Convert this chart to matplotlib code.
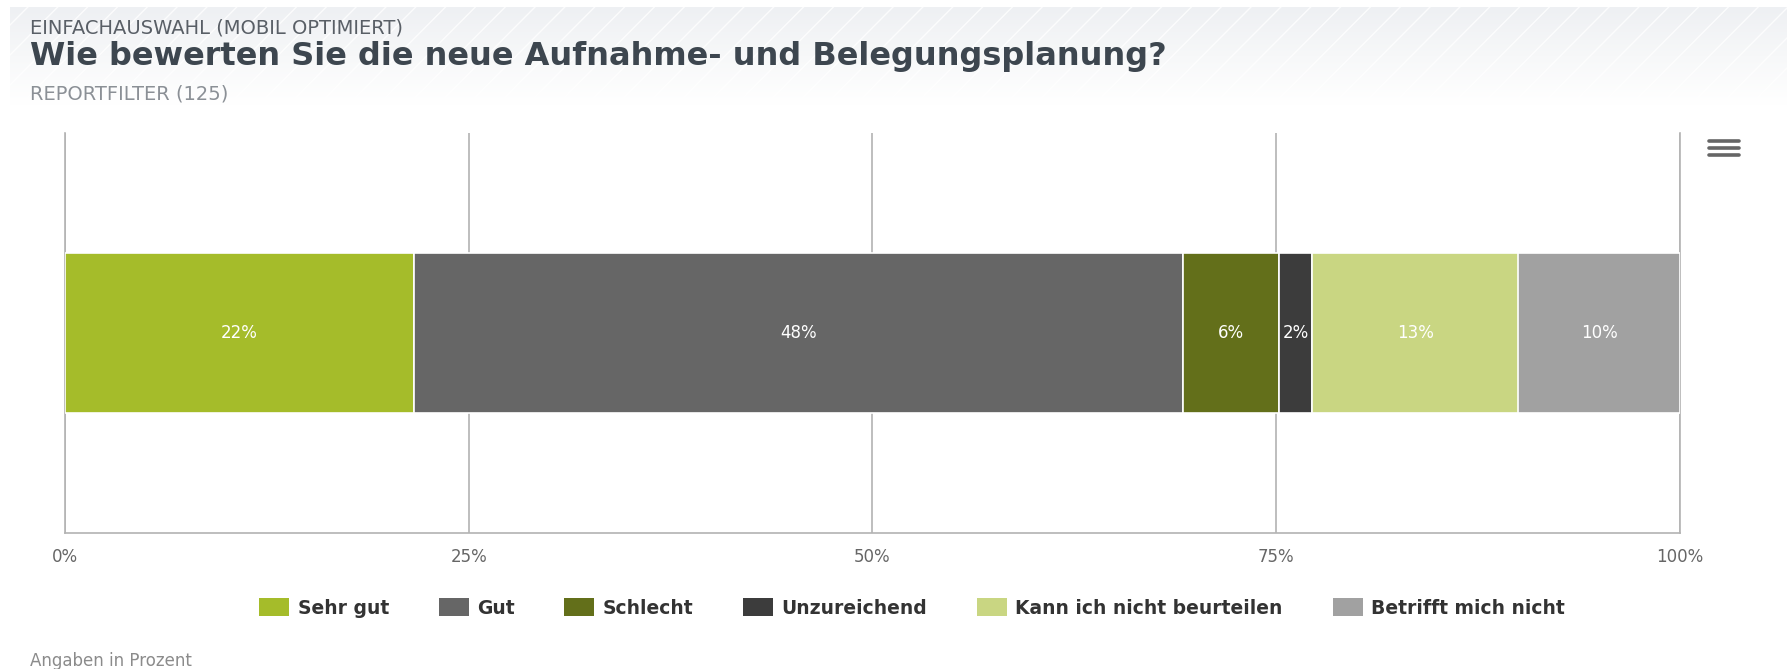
import numpy as np
import matplotlib
matplotlib.use("Agg")
import matplotlib.pyplot as plt
from matplotlib.lines import Line2D
from matplotlib.patches import Patch

# Daten (Anteile in Prozent)
kategorien = ["Sehr gut", "Gut", "Schlecht", "Unzureichend",
              "Kann ich nicht beurteilen", "Betrifft mich nicht"]
werte = [21.6, 47.6, 6.0, 2.0, 12.8, 10.0]
farben = ["#a5bc2a", "#666666", "#636f1a", "#3c3c3c", "#c9d682", "#a1a1a1"]
x_ticks = [0, 25, 50, 75, 100]
x_labels = ["0%", "25%", "50%", "75%", "100%"]

W, H = 1787, 669
plt.rcParams['font.family'] = ['DejaVu Sans']

fig = plt.figure(figsize=(W / 100, H / 100), dpi=100)

# Kopfbereich: heller Verlauf mit feinen Diagonalstreifen
hdr = fig.add_axes([10 / W, 1 - 105 / H, 1 - 10 / W, 98 / H])
grad = np.linspace(0, 1, 100)[:, None]
hdr.imshow(grad, aspect='auto', cmap=matplotlib.colors.LinearSegmentedColormap.from_list(
    'hdr', ["#eef0f3", "#f7f8f9", "#ffffff"]), extent=[0, W, 0, 98], origin='upper')
for x0 in np.arange(-200, W + 100, 30):
    hdr.plot([x0, x0 + 98], [0, 98], color='white', lw=1.0, alpha=0.8)
hdr.set_xlim(0, W)
hdr.set_ylim(0, 98)
hdr.axis('off')

fig.text(30 / W, 1 - 33 / H, "EINFACHAUSWAHL (MOBIL OPTIMIERT)", fontsize=14,
         color="#595f66", va='baseline')
fig.text(30 / W, 1 - 65 / H, "Wie bewerten Sie die neue Aufnahme- und Belegungsplanung?",
         fontsize=23, fontweight='bold', color="#3d464f", va='baseline')
fig.text(30 / W, 1 - 99 / H, "REPORTFILTER (125)", fontsize=14, color="#8b9096",
         va='baseline')
fig.text(30 / W, 1 - 666 / H, "Angaben in Prozent", fontsize=12, color="#8b8b8b",
         va='baseline')

# Diagramm
ax = fig.add_axes([65 / W, 1 - 533 / H, (1680 - 65) / W, 400 / H])
links = np.concatenate([[0], np.cumsum(werte)[:-1]])
for kat, w, l, c in zip(kategorien, werte, links, farben):
    ax.barh([0], [w], left=[l], height=0.4, color=c, edgecolor='white',
            linewidth=1.2, label=kat, zorder=3)
    ax.text(l + w / 2, 0, f"{round(w):d}%", ha='center', va='center',
            color='white', fontsize=12, zorder=4)

ax.set_xlim(0, 100)
ax.set_ylim(-0.5, 0.5)
ax.set_yticks([])
ax.set_xticks(x_ticks)
ax.set_xticklabels(x_labels, color="#666666", fontsize=12)
ax.tick_params(axis='x', length=0, pad=10.5)
ax.grid(axis='x', color="#b3b3b3", linewidth=1.2, zorder=0)
ax.set_axisbelow(True)
ax.spines['top'].set_visible(False)
for s in ['left', 'right', 'bottom']:
    ax.spines[s].set_color("#b3b3b3")
    ax.spines[s].set_linewidth(1.2)

# Legende
handles = [Patch(facecolor=c, edgecolor='none') for c in farben]
fig.legend(handles=handles, labels=kategorien, loc='center',
           bbox_to_anchor=(912 / W, 1 - 608 / H), ncol=6, frameon=False,
           prop={'weight': 'bold', 'size': 13.5}, labelcolor="#333333",
           handlelength=1.6, handleheight=1.05, handletextpad=0.45,
           columnspacing=2.65)

# Menü-Symbol
for yy in [141, 148, 155]:
    fig.add_artist(Line2D([1709 / W, 1739 / W], [1 - yy / H, 1 - yy / H],
                          color="#666666", lw=2.6, solid_capstyle='round'))

fig.savefig("out.png", dpi=100)
